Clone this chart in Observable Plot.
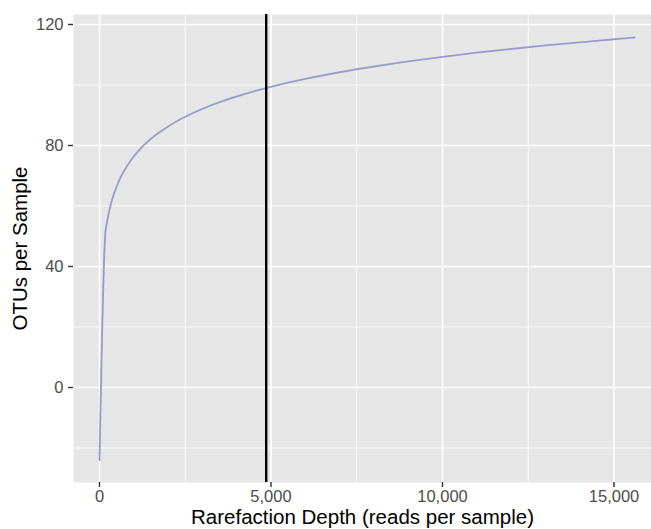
<!DOCTYPE html>
<html>
<head>
<meta charset="utf-8">
<script src="https://cdn.jsdelivr.net/npm/d3@7"></script>
<script src="https://cdn.jsdelivr.net/npm/@observablehq/plot@0.6"></script>
<style>
  html, body { margin: 0; padding: 0; background: white; }
</style>
</head>
<body>
<div id="chart"></div>
<script>
// Rarefaction depth (reads per sample) and mean OTUs per sample
const depth = [1, 175, 200, 250, 300, 400, 550, 700, 900, 1200, 1600, 2000, 2500, 3000, 3500, 4000, 4500, 5000, 6000, 7000, 8000, 9000, 10000, 11000, 12000, 13000, 14000, 15000, 15600];
const otus  = [-24, 51.7, 53.4, 56.6, 59.2, 63.3, 67.8, 71.3, 74.9, 79.0, 83.1, 86.3, 89.5, 92.1, 94.3, 96.2, 97.9, 99.4, 102.0, 104.2, 106.1, 107.8, 109.3, 110.7, 111.9, 113.1, 114.1, 115.1, 115.7];

const cutoffDepth = [4860];

const xTicks = [0, 5000, 10000, 15000];
const xMinor = [2500, 7500, 12500];
const yTicks = [0, 40, 80, 120];
const yMinor = [-20, 20, 60, 100];

const xTitle = "Rarefaction Depth (reads per sample)";
const yTitle = "OTUs per Sample";

const data = depth.map((d, i) => ({depth: d, otus: otus[i]}));

const chart = Plot.plot({
  width: 651,
  height: 529,
  marginLeft: 73,
  marginRight: 0,
  marginTop: 14,
  marginBottom: 47,
  x: {domain: [-758, 16093]},
  y: {domain: [-31.4, 123.3]},
  style: {fontFamily: "'Liberation Sans', Arial, sans-serif", background: "white"},
  marks: [
    Plot.frame({fill: "#e6e6e6", stroke: null}),
    Plot.ruleX(xMinor, {stroke: "white", strokeWidth: 0.8}),
    Plot.ruleY(yMinor, {stroke: "white", strokeWidth: 0.8}),
    Plot.ruleX(xTicks, {stroke: "white", strokeWidth: 1.6}),
    Plot.ruleY(yTicks, {stroke: "white", strokeWidth: 1.6}),
    Plot.line(data, {x: "depth", y: "otus", stroke: "#a9aac4", strokeWidth: 1.9, curve: "monotone-x"}),
    Plot.line(data, {x: "depth", y: "otus", stroke: "#8c91dc", strokeWidth: 0.8, curve: "monotone-x"}),
    Plot.ruleX(cutoffDepth, {stroke: "black", strokeWidth: 2.4}),
    Plot.axisX(xTicks, {
      tickSize: 5, tickPadding: 3, fontSize: 16.5,
      stroke: "#333333", fill: "#4d4d4d", strokeWidth: 1.4,
      tickFormat: d3.format(","), label: null
    }),
    Plot.axisY(yTicks, {
      tickSize: 5, tickPadding: 5, fontSize: 16.5,
      stroke: "#333333", fill: "#4d4d4d", strokeWidth: 1.4,
      label: null
    }),
    Plot.text([xTitle], {
      frameAnchor: "bottom", dy: 41, fontSize: 20.5, fill: "black",
      textAnchor: "middle", lineAnchor: "bottom"
    }),
    Plot.text([yTitle], {
      frameAnchor: "left", dx: -53, fontSize: 20.5, fill: "black",
      rotate: -90, textAnchor: "middle", lineAnchor: "middle"
    })
  ]
});

document.getElementById("chart").appendChild(chart);
</script>
</body>
</html>
